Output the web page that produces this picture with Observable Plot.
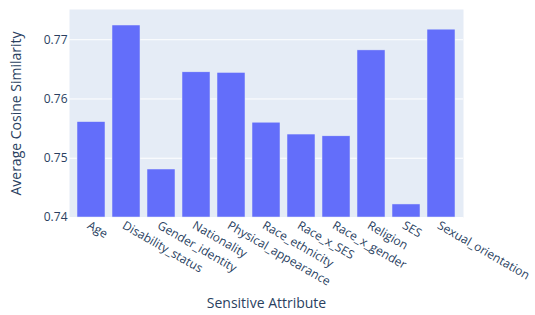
<!DOCTYPE html>
<html>
<head>
<meta charset="utf-8">
<script src="https://cdn.jsdelivr.net/npm/d3@7"></script>
<script src="https://cdn.jsdelivr.net/npm/@observablehq/plot@0.6"></script>
<style>
  html, body { margin: 0; padding: 0; background: #fff; }
</style>
</head>
<body>
<div id="chart"></div>
<script>
const categories = ["Age", "Disability_status", "Gender_identity", "Nationality", "Physical_appearance", "Race_ethnicity", "Race_x_SES", "Race_x_gender", "Religion", "SES", "Sexual_orientation"];
const values = [0.7561, 0.7724, 0.7481, 0.7645, 0.7644, 0.7560, 0.7540, 0.7537, 0.7682, 0.7422, 0.7717];
const yTicks = [0.74, 0.75, 0.76, 0.77];
const yDomain = [0.74, 0.7751];
const xTitle = "Sensitive Attribute";
const yTitle = "Average Cosine Similarity";

const data = categories.map((c, i) => ({category: c, value: values[i]}));
const ink = "#2a3f5f";

const chart = Plot.plot({
  width: 535,
  height: 315,
  marginLeft: 69,
  marginRight: 72,
  marginTop: 9,
  marginBottom: 98,
  style: {fontFamily: "'Open Sans', sans-serif", fontSize: "12px", color: ink, background: "#fff"},
  x: {domain: categories, padding: 0.2, label: null},
  y: {domain: yDomain, label: null},
  marks: [
    Plot.frame({fill: "#E5ECF6", stroke: null}),
    Plot.gridY(yTicks, {stroke: "#fff", strokeOpacity: 1, strokeWidth: 1}),
    Plot.barY(data, {x: "category", y1: () => yDomain[0], y2: "value", fill: "#636efa", stroke: "#E5ECF6", strokeWidth: 0.5}),
    Plot.axisY(yTicks, {tickSize: 0, tickPadding: 2, tickFormat: d3.format(".2f"), fill: ink, label: null}),
    Plot.axisX({tickSize: 0, tickPadding: 7, tickRotate: 30, dx: -3, fill: ink, label: null}),
    Plot.text([xTitle], {frameAnchor: "bottom", dy: 90, fontSize: 14, fill: ink}),
    Plot.text([yTitle], {frameAnchor: "left", dx: -53, rotate: -90, textAnchor: "middle", fontSize: 14, fill: ink})
  ]
});
document.getElementById("chart").appendChild(chart);
</script>
</body>
</html>
